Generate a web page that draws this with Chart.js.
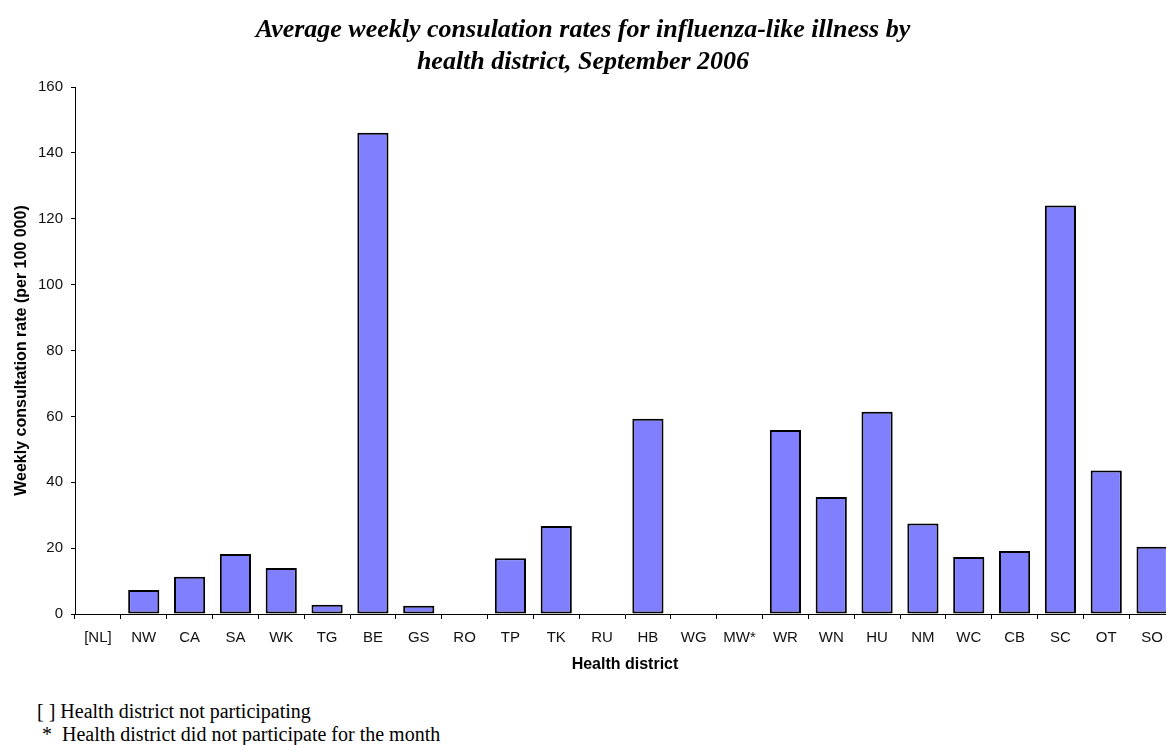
<!DOCTYPE html>
<html>
<head>
<meta charset="utf-8">
<script src="https://cdn.jsdelivr.net/npm/chart.js@4/dist/chart.umd.min.js"></script>
<style>
  html, body { margin: 0; padding: 0; background: #fff; }
  body { width: 1166px; height: 745px; overflow: hidden; position: relative; }
  #title {
    position: absolute; left: 0; top: 13px; width: 1166px; text-align: center;
    font-family: "Liberation Serif", "Times New Roman", serif; font-weight: bold; font-style: italic;
    font-size: 26px; line-height: 32px; color: #000;
  }
  #wrap { position: absolute; left: 0; top: 0; width: 1180px; height: 690px; }
  .note {
    position: absolute; left: 37px; font-family: "Liberation Serif", "Times New Roman", serif;
    font-size: 20px; line-height: 23px; color: #000; white-space: pre;
  }
</style>
</head>
<body>
<div id="wrap"><canvas id="c" width="1180" height="690"></canvas></div>
<div id="title">Average weekly consulation rates for influenza-like illness by<br>health district, September 2006</div>
<div class="note" style="top:700px;">[ ] Health district not participating</div>
<div class="note" style="top:723px;"> *  Health district did not participate for the month</div>
<script>
const districts = ["[NL]", "NW", "CA", "SA", "WK", "TG", "BE", "GS", "RO", "TP", "TK", "RU", "HB", "WG", "MW*", "WR", "WN", "HU", "NM", "WC", "CB", "SC", "OT", "SO"];
const rates = [null, 7.3, 11.3, 18.2, 14.0, 2.8, 146.1, 2.5, 0, 16.9, 26.7, 0, 59.3, 0, null, 55.9, 35.5, 61.4, 27.5, 17.3, 19.1, 124.0, 43.6, 20.4];
const yTicks = [0, 20, 40, 60, 80, 100, 120, 140, 160];

const sans = "'Liberation Sans', Arial, sans-serif";
const axisFont = { family: sans, size: 15 };

new Chart(document.getElementById("c"), {
  type: "bar",
  data: {
    labels: districts,
    datasets: [{
      label: "Weekly consultation rate",
      data: rates,
      backgroundColor: "#8080FF",
      borderColor: "#000000",
      borderWidth: 2,
      borderSkipped: false,
      barPercentage: 0.68,
      categoryPercentage: 1.0
    }]
  },
  options: {
    responsive: false,
    animation: false,
    events: [],
    layout: { padding: { top: 87, left: 0, right: 5, bottom: 16 } },
    plugins: { legend: { display: false }, tooltip: { enabled: false }, title: { display: false } },
    scales: {
      x: {
        type: "category",
        offset: true,
        grid: { display: true, offset: true, drawOnChartArea: false, drawTicks: true, tickLength: 5, color: "#000", lineWidth: 1 },
        border: { display: true, color: "#000", width: 1 },
        ticks: { color: "#111", font: axisFont, padding: 10, autoSkip: false, maxRotation: 0 },
        title: { display: true, text: "Health district", color: "#000", font: { family: sans, size: 16, weight: "bold" }, padding: { top: 0, bottom: 0 } },
        afterFit: (s) => { s.height = 60; }
      },
      y: {
        min: 0, max: 160,
        afterBuildTicks: (s) => { s.ticks = yTicks.map(v => ({ value: v })); },
        grid: { display: true, drawOnChartArea: false, drawTicks: true, tickLength: 4, color: "#000", lineWidth: 1 },
        border: { display: true, color: "#000", width: 1 },
        ticks: { color: "#111", font: axisFont, padding: 8 },
        title: { display: true, text: "Weekly consultation rate (per 100 000)", color: "#000", font: { family: sans, size: 16, weight: "bold" }, padding: { top: 12, bottom: 0 } },
        afterFit: (s) => { s.width = 75; }
      }
    }
  }
});
</script>
</body>
</html>
